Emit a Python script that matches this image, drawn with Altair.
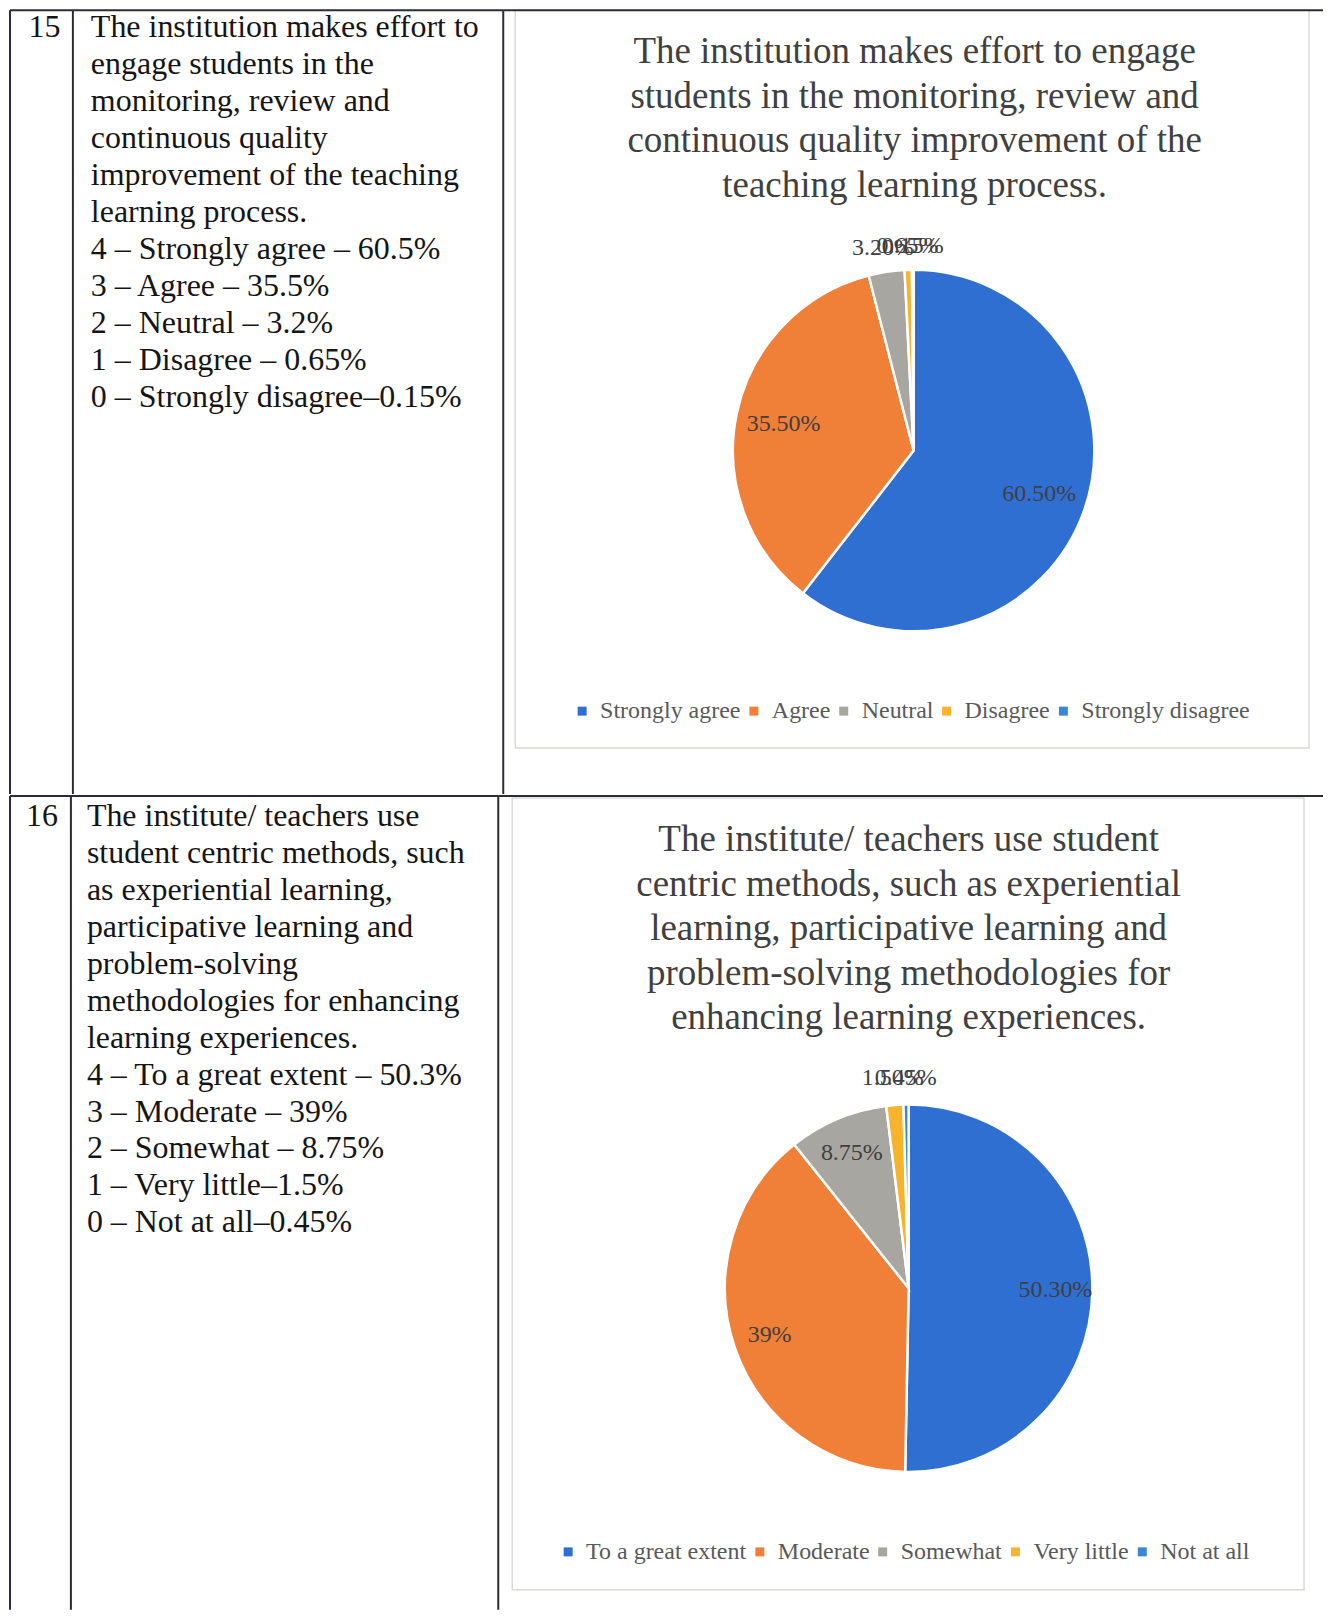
import altair as alt
import pandas as pd

SERIF = "Liberation Serif"
LINE = "#2b2b3a"

# ---------------- data ----------------
q15_number = "15"
q15_text = [
    "The institution makes effort to",
    "engage students in the",
    "monitoring, review and",
    "continuous quality",
    "improvement of the teaching",
    "learning process.",
    "4 \u2013 Strongly agree \u2013 60.5%",
    "3 \u2013 Agree \u2013 35.5%",
    "2 \u2013 Neutral \u2013 3.2%",
    "1 \u2013 Disagree \u2013 0.65%",
    "0 \u2013 Strongly disagree\u20130.15%",
]
q15_title = [
    "The institution makes effort to engage",
    "students in the monitoring, review and",
    "continuous quality improvement of the",
    "teaching learning process.",
]
q15_cats = ["Strongly agree", "Agree", "Neutral", "Disagree", "Strongly disagree"]
q15_vals = [60.5, 35.5, 3.2, 0.65, 0.15]
q15_labels = ["60.50%", "35.50%", "3.20%", "0.65%", "0.15%"]

q16_number = "16"
q16_text = [
    "The institute/ teachers use",
    "student centric methods, such",
    "as experiential learning,",
    "participative learning and",
    "problem-solving",
    "methodologies for enhancing",
    "learning experiences.",
    "4 \u2013 To a great extent \u2013 50.3%",
    "3 \u2013 Moderate \u2013 39%",
    "2 \u2013 Somewhat \u2013 8.75%",
    "1 \u2013 Very little\u20131.5%",
    "0 \u2013 Not at all\u20130.45%",
]
q16_title = [
    "The institute/ teachers use student",
    "centric methods, such as experiential",
    "learning, participative learning and",
    "problem-solving methodologies for",
    "enhancing learning experiences.",
]
q16_cats = ["To a great extent", "Moderate", "Somewhat", "Very little", "Not at all"]
q16_vals = [50.3, 39, 8.75, 1.5, 0.45]
q16_labels = ["50.30%", "39%", "8.75%", "1.50%", "0.45%"]

colors = ["#2F6FD2", "#F07F38", "#A8A6A1", "#F6B42C", "#3A87D4"]


def one():
    return pd.DataFrame({"k": [0]})


def borders(w, h):
    top = alt.Chart(one()).mark_rule(color=LINE, strokeWidth=2).encode(
        x=alt.value(0), x2=alt.value(w), y=alt.value(0))
    left = alt.Chart(one()).mark_rule(color=LINE, strokeWidth=2).encode(
        x=alt.value(0), y=alt.value(0), y2=alt.value(h))
    return [top, left]


def block(lines, x, y, size, color, align="left", lh=37):
    return alt.Chart(pd.DataFrame({"t": ["\n".join(lines)]})).mark_text(
        font=SERIF, fontSize=size, color=color, align=align,
        baseline="alphabetic", lineBreak="\n", lineHeight=lh,
    ).encode(x=alt.value(x), y=alt.value(y), text="t:N")


def num_panel(num, W, H, x, y):
    return alt.layer(*borders(W, H), block([num], x, y, 32, "#151515", align="center")).properties(
        width=W, height=H)


def text_panel(lines, W, H, x, y):
    return alt.layer(*borders(W, H), block(lines, x, y, 32, "#151515")).properties(
        width=W, height=H)


def pie_panel(cats, vals, labels, title, W, H, tx, ty, cx, cy, r, r_in, r_out,
              frame, lx, ly):
    df = pd.DataFrame({"cat": cats, "pct": vals, "lab": labels,
                       "idx": list(range(len(cats)))})
    fx1, fx2, fy1, fy2 = frame
    frame_rect = alt.Chart(one()).mark_rect(
        fillOpacity=0, stroke="#d9dcd6", strokeWidth=1.5).encode(
        x=alt.value(fx1), x2=alt.value(fx2), y=alt.value(fy1), y2=alt.value(fy2))
    base = alt.Chart(df).encode(
        theta=alt.Theta("pct:Q", stack=True),
        order=alt.Order("idx:Q"),
    )
    arcs = base.mark_arc(outerRadius=r, stroke="white", strokeWidth=2.5).encode(
        x=alt.value(cx), y=alt.value(cy),
        color=alt.Color(
            "cat:N",
            scale=alt.Scale(domain=cats, range=colors),
            sort=cats,
            legend=alt.Legend(
                orient="none", legendX=lx, legendY=ly, direction="horizontal",
                columns=5, title=None, symbolType="square", symbolSize=81,
                symbolStrokeWidth=0, labelFont=SERIF, labelFontSize=24,
                labelColor="#595959", labelOffset=6, columnPadding=1,
                labelLimit=0, padding=0,
            ),
        ),
    )
    inner = base.transform_calculate(
        show="datum.pct > 5 ? datum.lab : ''"
    ).mark_text(radius=r_in, font=SERIF, fontSize=24, color="#404040",
                align="center", baseline="middle").encode(
        x=alt.value(cx), y=alt.value(cy), text="show:N")
    outer = base.transform_calculate(
        show="datum.pct <= 5 ? datum.lab : ''"
    ).mark_text(radius=r_out, font=SERIF, fontSize=24, color="#404040",
                align="center", baseline="middle").encode(
        x=alt.value(cx), y=alt.value(cy), text="show:N")
    ttl = block(title, tx, ty, 37, "#404040", align="center", lh=44.7)
    return alt.layer(frame_rect, *borders(W, H), ttl, arcs, inner, outer).properties(
        width=W, height=H)


H1, H2 = 785, 815

row1 = alt.hconcat(
    num_panel(q15_number, 63, H1, 34.5, 27),
    text_panel(q15_text, 431, H1, 18, 27),
    pie_panel(q15_cats, q15_vals, q15_labels, q15_title, 821, H1,
              412, 53, 411, 441, 181, 133, 205, (12, 807, 0, 739), 67, 690),
    spacing=0, bounds="flush",
).resolve_scale(color="independent", theta="independent")

row2 = alt.hconcat(
    num_panel(q16_number, 61, H2, 32, 30),
    text_panel(q16_text, 428, H2, 16, 30),
    pie_panel(q16_cats, q16_vals, q16_labels, q16_title, 826, H2,
              411, 55, 411, 493, 184, 147, 211, (14, 807, 2, 795), 58, 745),
    spacing=0, bounds="flush",
).resolve_scale(color="independent", theta="independent")

chart = alt.vconcat(row1, row2, spacing=0).resolve_scale(
    color="independent", theta="independent"
).properties(
    padding={"left": 1, "top": 0, "right": 0, "bottom": 0}
).configure_view(stroke=None)

chart.save("out.html", embed_options={"renderer": "svg", "actions": False})
